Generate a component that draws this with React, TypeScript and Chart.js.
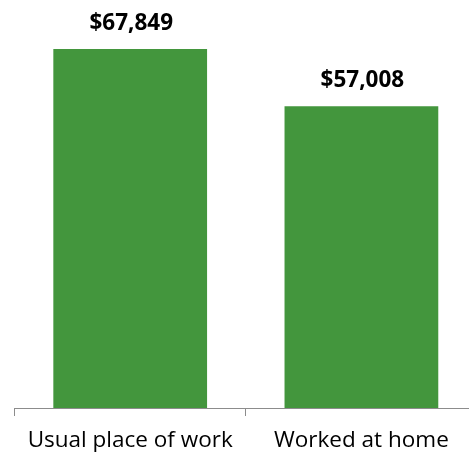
import React, { useEffect, useRef } from "react";
import { Chart, registerables } from "chart.js";

Chart.register(...registerables);

const categories = ["Usual place of work", "Worked at home"];
const medianEarnings = [67849, 57008];
const barColor = "#43963D";

const valueLabelPlugin = {
  id: "valueLabels",
  afterDatasetsDraw(chart: any) {
    const ctx = chart.ctx;
    const meta = chart.getDatasetMeta(0);
    ctx.save();
    ctx.font = "bold 22.5px 'Open Sans'";
    ctx.fillStyle = "#000000";
    ctx.textAlign = "center";
    ctx.textBaseline = "alphabetic";
    meta.data.forEach((bar: any, i: number) => {
      const v = medianEarnings[i];
      const txt = "$" + v.toLocaleString("en-US");
      ctx.fillText(txt, bar.x + 1, bar.y - 19);
    });
    ctx.restore();
  },
};

export default function App() {
  const ref = useRef<HTMLCanvasElement>(null);
  useEffect(() => {
    if (!ref.current) return;
    const chart = new Chart(ref.current, {
      type: "bar",
      data: {
        labels: categories,
        datasets: [
          {
            data: medianEarnings,
            backgroundColor: barColor,
            barPercentage: 0.665,
            categoryPercentage: 1,
          },
        ],
      },
      options: {
        responsive: false,
        animation: false,
        layout: { padding: { left: 14.6, right: 0, top: 0, bottom: 0 } },
        plugins: { legend: { display: false }, tooltip: { enabled: false } },
        scales: {
          y: { display: false, min: 0, max: 77100 },
          x: {
            afterFit: (axis: any) => {
              axis.height = 46;
            },
            grid: {
              offset: true,
              drawOnChartArea: false,
              drawTicks: true,
              tickLength: 8,
              color: "#8c8c8c",
              lineWidth: 1,
            },
            border: { display: true, color: "#8c8c8c", width: 1 },
            ticks: {
              color: "#000000",
              font: { family: "'Open Sans'", size: 22.5 },
              padding: 11,
              maxRotation: 0,
            },
          },
        },
      },
      plugins: [valueLabelPlugin],
    });
    return () => chart.destroy();
  }, []);
  return (
    <div style={{ position: "absolute", left: 0, top: 0, width: 469, height: 454, overflow: "hidden", background: "#fff" }}>
      <canvas ref={ref} width={477} height={454} />
    </div>
  );
}
